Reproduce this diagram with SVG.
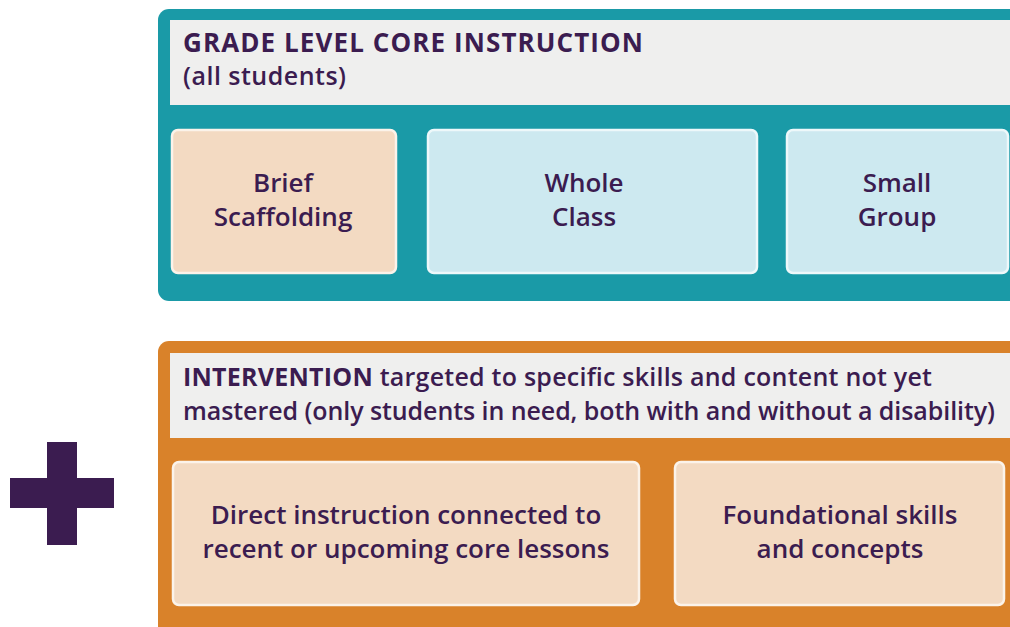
<svg xmlns="http://www.w3.org/2000/svg" width="1010" height="627" viewBox="0 0 1010 627">
<style>
text{font-family:"Open Sans","Noto Sans","Liberation Sans",sans-serif;fill:#3b1c50;}
.h{font-size:26px;font-weight:700;}
.s{font-size:25px;font-weight:600;}
.b{font-size:26px;font-weight:600;text-anchor:middle;}
.band{fill:#efefee;}
.peach{fill:#f3dac2;stroke:#fbf3ea;stroke-width:2.5;}
.blue{fill:#cde9f0;stroke:#eef8fa;stroke-width:2.5;}
</style>
<rect width="1010" height="627" fill="#ffffff"/>
<g id="core">
<rect x="158" y="9" width="870" height="292" rx="11" fill="#1a9aa7"/>
<rect class="band" x="170" y="20" width="850" height="85"/>
<text class="h" x="183" y="52" textLength="460" lengthAdjust="spacing">GRADE LEVEL CORE INSTRUCTION</text>
<text class="s" x="183" y="85" textLength="163" lengthAdjust="spacing">(all students)</text>
</g>
<g id="brief">
<rect class="peach" x="172" y="130" width="224" height="143" rx="6"/>
<text class="b" x="283" y="192">Brief</text>
<text class="b" x="283" y="226">Scaffolding</text>
</g>
<g id="whole">
<rect class="blue" x="428" y="130" width="329" height="143" rx="6"/>
<text class="b" x="584" y="192">Whole</text>
<text class="b" x="584" y="226">Class</text>
</g>
<g id="small">
<rect class="blue" x="787" y="130" width="221" height="143" rx="6"/>
<text class="b" x="897" y="192">Small</text>
<text class="b" x="897" y="226">Group</text>
</g>
<g id="plus">
<rect x="47" y="442" width="30" height="103" fill="#3b1c50"/>
<rect x="10" y="478" width="104" height="30" fill="#3b1c50"/>
</g>
<g id="intervention">
<rect x="158" y="341" width="870" height="300" rx="11" fill="#d9822a"/>
<rect class="band" x="170" y="353" width="850" height="85"/>
<text class="s" x="183" y="386" textLength="749" lengthAdjust="spacing"><tspan font-weight="700">INTERVENTION</tspan> targeted to specific skills and content not yet</text>
<text class="s" x="183" y="420" textLength="812" lengthAdjust="spacing">mastered (only students in need, both with and without a disability)</text>
</g>
<g id="direct">
<rect class="peach" x="173" y="462" width="466" height="143" rx="6"/>
<text class="b" x="406" y="524">Direct instruction connected to</text>
<text class="b" x="406" y="558">recent or upcoming core lessons</text>
</g>
<g id="foundational">
<rect class="peach" x="675" y="462" width="329" height="143" rx="6"/>
<text class="b" x="840" y="524">Foundational skills</text>
<text class="b" x="840" y="558">and concepts</text>
</g>
<g id="connectors"></g>
</svg>
